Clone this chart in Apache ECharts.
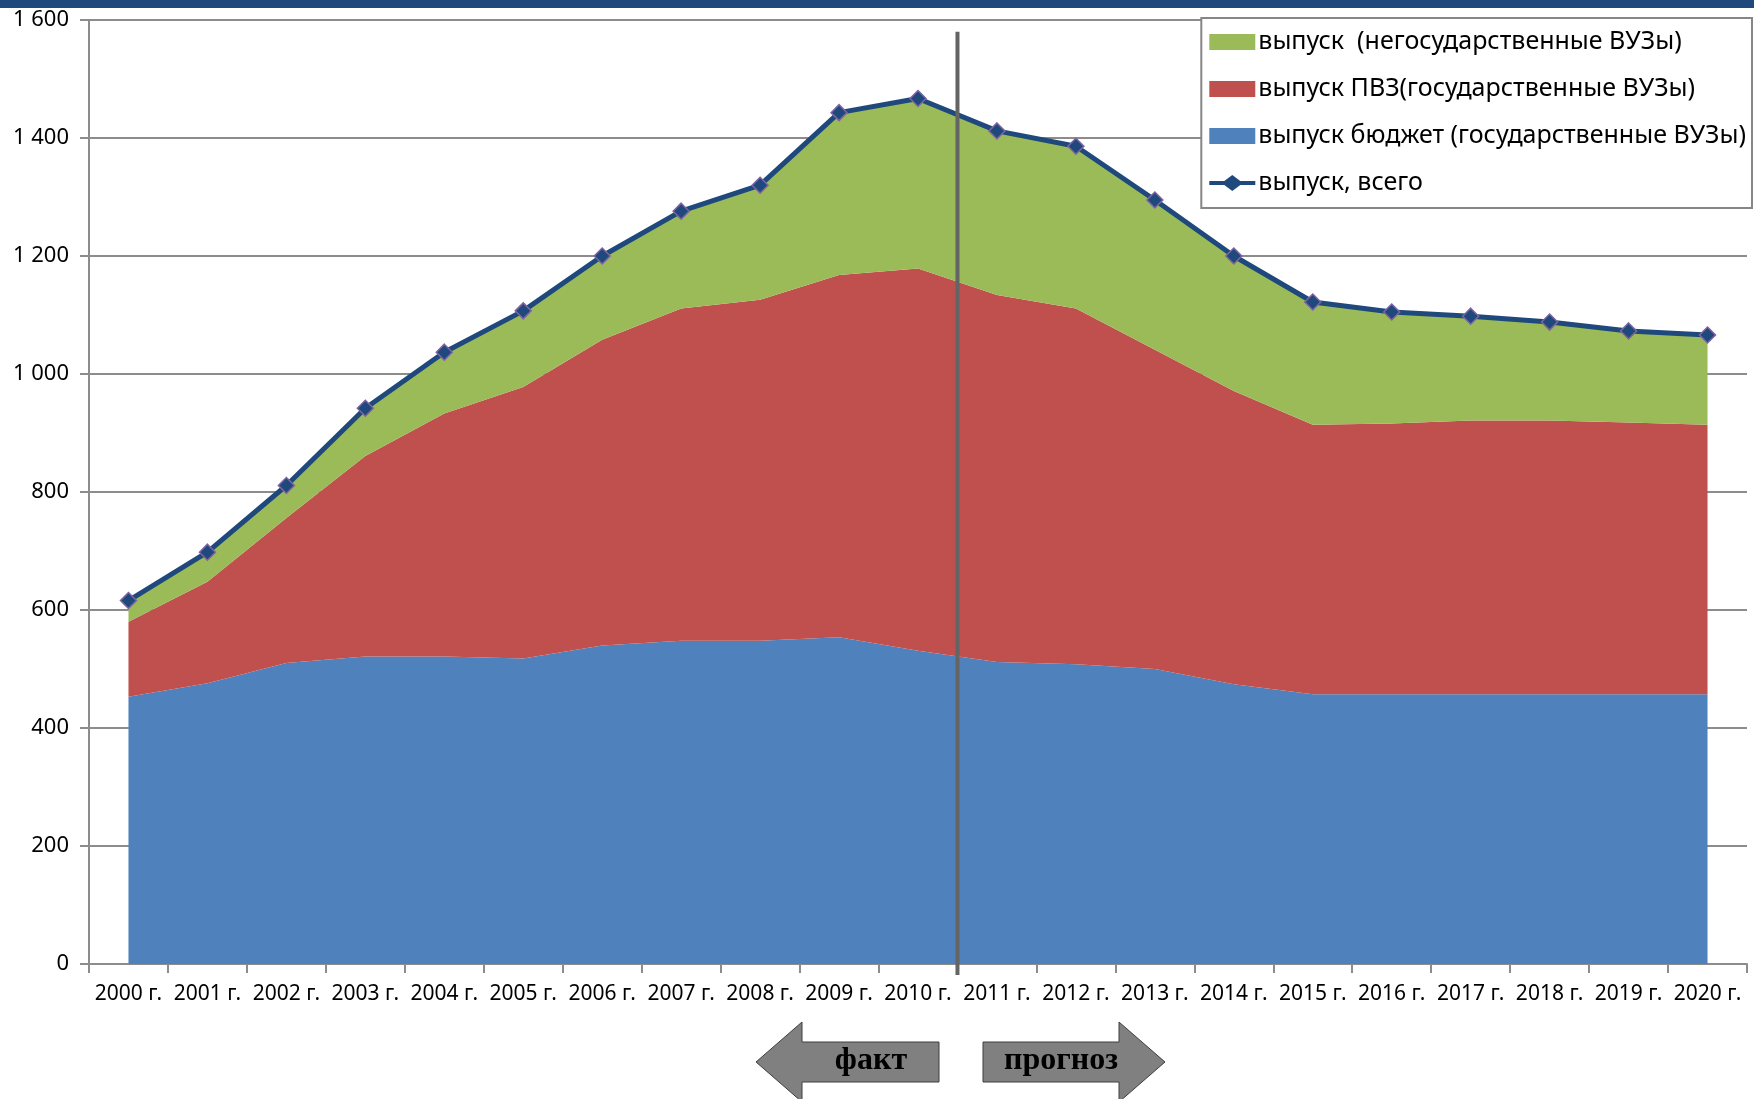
<!DOCTYPE html>
<html>
<head>
<meta charset="utf-8">
<title>Выпуск</title>
<script src="https://cdn.jsdelivr.net/npm/echarts@6/dist/echarts.min.js"></script>
<style>
  html, body { margin: 0; padding: 0; background: #ffffff; }
  #chart { width: 1754px; height: 1099px; }
</style>
</head>
<body>
<div id="chart"></div>
<script>
const years = ['2000 г.', '2001 г.', '2002 г.', '2003 г.', '2004 г.', '2005 г.', '2006 г.',
  '2007 г.', '2008 г.', '2009 г.', '2010 г.', '2011 г.', '2012 г.', '2013 г.', '2014 г.',
  '2015 г.', '2016 г.', '2017 г.', '2018 г.', '2019 г.', '2020 г.']

// выпуск бюджет (государственные ВУЗы)
const budget = [453, 476, 510, 521, 521, 518, 540, 548, 548, 554, 531, 512, 508, 500, 474, 457, 457, 457, 457, 457, 457]
// выпуск ПВЗ (государственные ВУЗы)
const pvz = [127, 172, 246, 340, 412, 460, 518, 563, 578, 614, 648, 622, 603, 541, 497, 457, 459, 464, 464, 461, 457]
// выпуск негосударственные ВУЗы
const nonGov = [36, 50, 55, 81, 104, 129, 142, 165, 194, 275, 288, 278, 275, 254, 229, 208, 189, 177, 167, 155, 152]
// выпуск, всего
const total = [616, 698, 811, 942, 1037, 1107, 1200, 1276, 1320, 1443, 1467, 1412, 1386, 1295, 1200, 1122, 1105, 1098, 1088, 1073, 1066]

const names = {
  nonGov: 'выпуск  (негосударственные ВУЗы)',
  pvz: 'выпуск ПВЗ(государственные ВУЗы)',
  budget: 'выпуск бюджет (государственные ВУЗы)',
  total: 'выпуск, всего'
}

const colors = {
  budget: '#4F81BD',
  pvz: '#C0504D',
  nonGov: '#9BBB59',
  line: '#1F497D',
  marker: '#8064A2',
  grid: '#8C8C8C'
}

const font = 'Noto Sans'

// значок легенды: толстая линия с ромбом посередине
const lineWithDiamond = 'path://M0 6L15 6L23 0L31 6L46 6L46 10L31 10L23 16L15 10L0 10Z'

const formatThousands = (v) => {
  if (v >= 1000) return Math.floor(v / 1000) + ' ' + String(v % 1000).padStart(3, '0')
  return String(v)
}

const areaSeries = (name, data, color) => ({
  name,
  type: 'line',
  stack: 'vypusk',
  data,
  symbol: 'none',
  lineStyle: { width: 0 },
  itemStyle: { color },
  areaStyle: { color, opacity: 1 },
  z: 2
})

const chart = echarts.init(document.getElementById('chart'))

const option = {
  animation: false,
  backgroundColor: '#ffffff',
  grid: {
    left: 89,
    right: 7,
    top: 20,
    bottom: 135
  },
  legend: {
    orient: 'vertical',
    right: 2,
    top: 18,
    padding: [11, 6, 12, 8],
    itemGap: 21,
    itemWidth: 46,
    itemHeight: 16,
    borderColor: '#868686',
    borderWidth: 2,
    backgroundColor: '#ffffff',
    textStyle: {
      fontFamily: font,
      fontSize: 25,
      lineHeight: 26,
      color: '#000000',
      padding: [0, 0, 0, -2]
    },
    data: [
      { name: names.nonGov, icon: 'rect' },
      { name: names.pvz, icon: 'rect' },
      { name: names.budget, icon: 'rect' },
      { name: names.total, icon: lineWithDiamond, itemStyle: { color: colors.line, borderWidth: 0 } }
    ]
  },
  xAxis: {
    type: 'category',
    data: years,
    boundaryGap: true,
    axisLine: { lineStyle: { color: colors.grid, width: 2 } },
    axisTick: { show: true, length: 9, lineStyle: { color: colors.grid, width: 2 } },
    axisLabel: {
      interval: 0,
      margin: 20,
      fontFamily: font,
      fontSize: 21,
      color: '#000000'
    }
  },
  yAxis: {
    type: 'value',
    min: 0,
    max: 1600,
    interval: 200,
    axisLine: { show: true, lineStyle: { color: colors.grid, width: 2 } },
    axisTick: { show: true, length: 9, lineStyle: { color: colors.grid, width: 2 } },
    splitLine: { lineStyle: { color: colors.grid, width: 2 } },
    axisLabel: {
      margin: 20,
      fontFamily: font,
      fontSize: 22,
      color: '#000000',
      formatter: formatThousands
    }
  },
  series: [
    areaSeries(names.budget, budget, colors.budget),
    areaSeries(names.pvz, pvz, colors.pvz),
    areaSeries(names.nonGov, nonGov, colors.nonGov),
    {
      name: names.total,
      type: 'line',
      data: total,
      symbol: 'diamond',
      symbolSize: 16,
      lineStyle: { color: colors.line, width: 5 },
      itemStyle: { color: colors.line, borderColor: colors.marker, borderWidth: 1.5 },
      z: 5
    }
  ]
}

chart.setOption(option)

// разделитель факт / прогноз между 2010 и 2011 годами
const x2010 = chart.convertToPixel({ xAxisIndex: 0 }, years[10])
const x2011 = chart.convertToPixel({ xAxisIndex: 0 }, years[11])
const sepX = (x2010 + x2011) / 2
const sepTop = chart.convertToPixel({ yAxisIndex: 0 }, 1580)
const sepBottom = chart.convertToPixel({ yAxisIndex: 0 }, 0) + 11

const arrowStyle = { fill: '#808080', stroke: '#3F3F3F', lineWidth: 1 }
const arrowText = {
  fontFamily: 'Liberation Serif',
  fontWeight: 'bold',
  fontSize: 32,
  fill: '#000000',
  align: 'center',
  verticalAlign: 'middle'
}

chart.setOption({
  graphic: [
    {
      type: 'rect',
      shape: { x: 0, y: 0, width: 1754, height: 8 },
      style: { fill: '#1F497D' },
      z: 100
    },
    {
      type: 'line',
      shape: { x1: sepX, y1: sepTop, x2: sepX, y2: sepBottom },
      style: { stroke: '#646464', lineWidth: 4 },
      z: 100
    },
    {
      type: 'polygon',
      shape: {
        points: [[756, 1062], [802, 1022], [802, 1042], [939, 1042], [939, 1082], [802, 1082], [802, 1102]]
      },
      style: arrowStyle,
      z: 100
    },
    {
      type: 'text',
      x: 871,
      y: 1061,
      style: Object.assign({ text: 'факт' }, arrowText),
      z: 101
    },
    {
      type: 'polygon',
      shape: {
        points: [[983, 1042], [1119, 1042], [1119, 1022], [1165, 1062], [1119, 1102], [1119, 1082], [983, 1082]]
      },
      style: arrowStyle,
      z: 100
    },
    {
      type: 'text',
      x: 1061,
      y: 1061,
      style: Object.assign({ text: 'прогноз' }, arrowText),
      z: 101
    }
  ]
})
</script>
</body>
</html>
